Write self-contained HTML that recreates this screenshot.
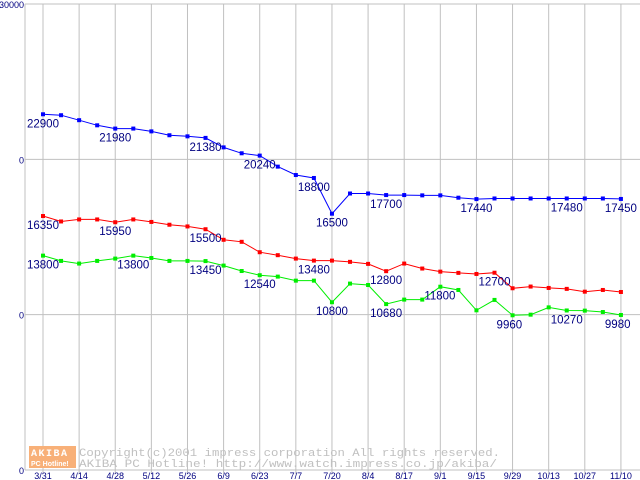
<!DOCTYPE html>
<html><head><meta charset="utf-8"><style>
body{margin:0;background:#fff;width:640px;height:480px;overflow:hidden}
svg{display:block;font-family:"Liberation Sans",sans-serif}
</style></head><body>
<svg id="chart" width="640" height="480">
<g id="grid"></g>
<g id="wm">
<rect x="29" y="446" width="47" height="22" fill="#f8b078"/>
<text x="31" y="456" font-size="10" fill="#fff" font-weight="bold" letter-spacing="1.5" font-family="Liberation Mono,monospace">AKIBA</text>
<text x="31" y="466" font-size="7" fill="#fff" font-weight="bold">PC Hotline!</text>
<text x="79" y="456" font-size="11" fill="#c0c0c0" font-family="Liberation Mono,monospace" textLength="421" lengthAdjust="spacingAndGlyphs">Copyright(c)2001 impress corporation All rights reserved.</text>
<text x="79" y="467" font-size="11" fill="#c0c0c0" font-family="Liberation Mono,monospace" textLength="418" lengthAdjust="spacingAndGlyphs">AKIBA PC Hotline!  http://www.watch.impress.co.jp/akiba/</text>
</g>
<g id="series"></g>
<g id="labels"></g>
</svg>
<script>
const categories=["3/31","4/14","4/28","5/12","5/26","6/9","6/23","7/7","7/20","8/4","8/17","9/1","9/15","9/29","10/13","10/27","11/10"];
const yTicks=[0,10000,20000,30000];
const blueValues=[22900,22840,22520,22190,21980,21980,21800,21550,21480,21380,20770,20390,20240,19530,18990,18800,16500,17800,17800,17700,17700,17680,17680,17530,17440,17480,17480,17480,17480,17480,17480,17480,17450];
const redValues=[16350,16000,16130,16130,15950,16130,15970,15790,15680,15500,14820,14690,14020,13830,13610,13480,13480,13400,13270,12800,13290,12970,12770,12690,12620,12700,11700,11810,11720,11660,11480,11590,11460];
const greenValues=[13800,13460,13290,13460,13610,13800,13650,13460,13460,13450,13160,12810,12540,12450,12190,12190,10800,12000,11910,10680,10970,10970,11800,11590,10280,10950,9960,10000,10470,10270,10260,10170,9980];
const blueLabels=[0,4,9,12,15,16,19,24,29,32];
const redLabels=[0,4,9,15,19,25];
const greenLabels=[0,5,9,12,16,19,22,26,29,32];
const NS="http://www.w3.org/2000/svg";
const X0=43,XSTEP=18.06,L=25,R=640,T=4,B=470,YMAX=30000;
function xs(i){return X0+i*XSTEP;}
function ys(v){return B-(B-T)*v/YMAX;}
function mk(tag,attrs,parent){const e=document.createElementNS(NS,tag);for(const k in attrs)e.setAttribute(k,attrs[k]);parent.appendChild(e);return e;}
const grid=document.getElementById('grid');
categories.forEach((c,i)=>{
 const x=xs(i*2);
 const gl=mk('line',{x1:x,x2:x,y1:T,y2:B+4,stroke:'#c0c0c0'},grid);
 
 
 const t=mk('text',{x:x,y:479,'text-anchor':'middle','font-size':9,fill:'#000080'},grid);
 t.textContent=c;
 
 
});
yTicks.forEach(v=>{
 const y=ys(v);
 const gl=mk('line',{x1:L,x2:R,y1:y,y2:y,stroke:'#c0c0c0'},grid);
 
 
 const t=mk('text',{x:24,y:y+4,'text-anchor':'end','font-size':9,fill:'#000080'},grid);
 t.textContent=(v===YMAX||v===0)?String(v):"0";
 
 
});
mk('line',{x1:L,x2:L,y1:T,y2:B,stroke:'#c0c0c0'},grid);
const series=document.getElementById('series'),labels=document.getElementById('labels');
function draw(vals,col,name,lab){
 const pts=vals.map((v,i)=>xs(i).toFixed(1)+','+ys(v).toFixed(1)).join(' ');
 const pl=mk('polyline',{points:pts,fill:'none',stroke:col,'stroke-width':1},series);
 
 
 vals.forEach((v,i)=>{
  const r=mk('rect',{x:xs(i)-2,y:ys(v)-2,width:4,height:4,fill:col},series);
  
  
 });
 lab.forEach(i=>{
  const t=mk('text',{x:xs(i)-16,y:ys(vals[i])+13,'font-size':11.5,fill:'#000080'},labels);
  t.textContent=vals[i];
  
  
 });
}
draw(blueValues,'#0000ff','blue-series',blueLabels);
draw(redValues,'#ff0000','red-series',redLabels);
draw(greenValues,'#00ee00','green-series',greenLabels);
</script>
</body></html>
